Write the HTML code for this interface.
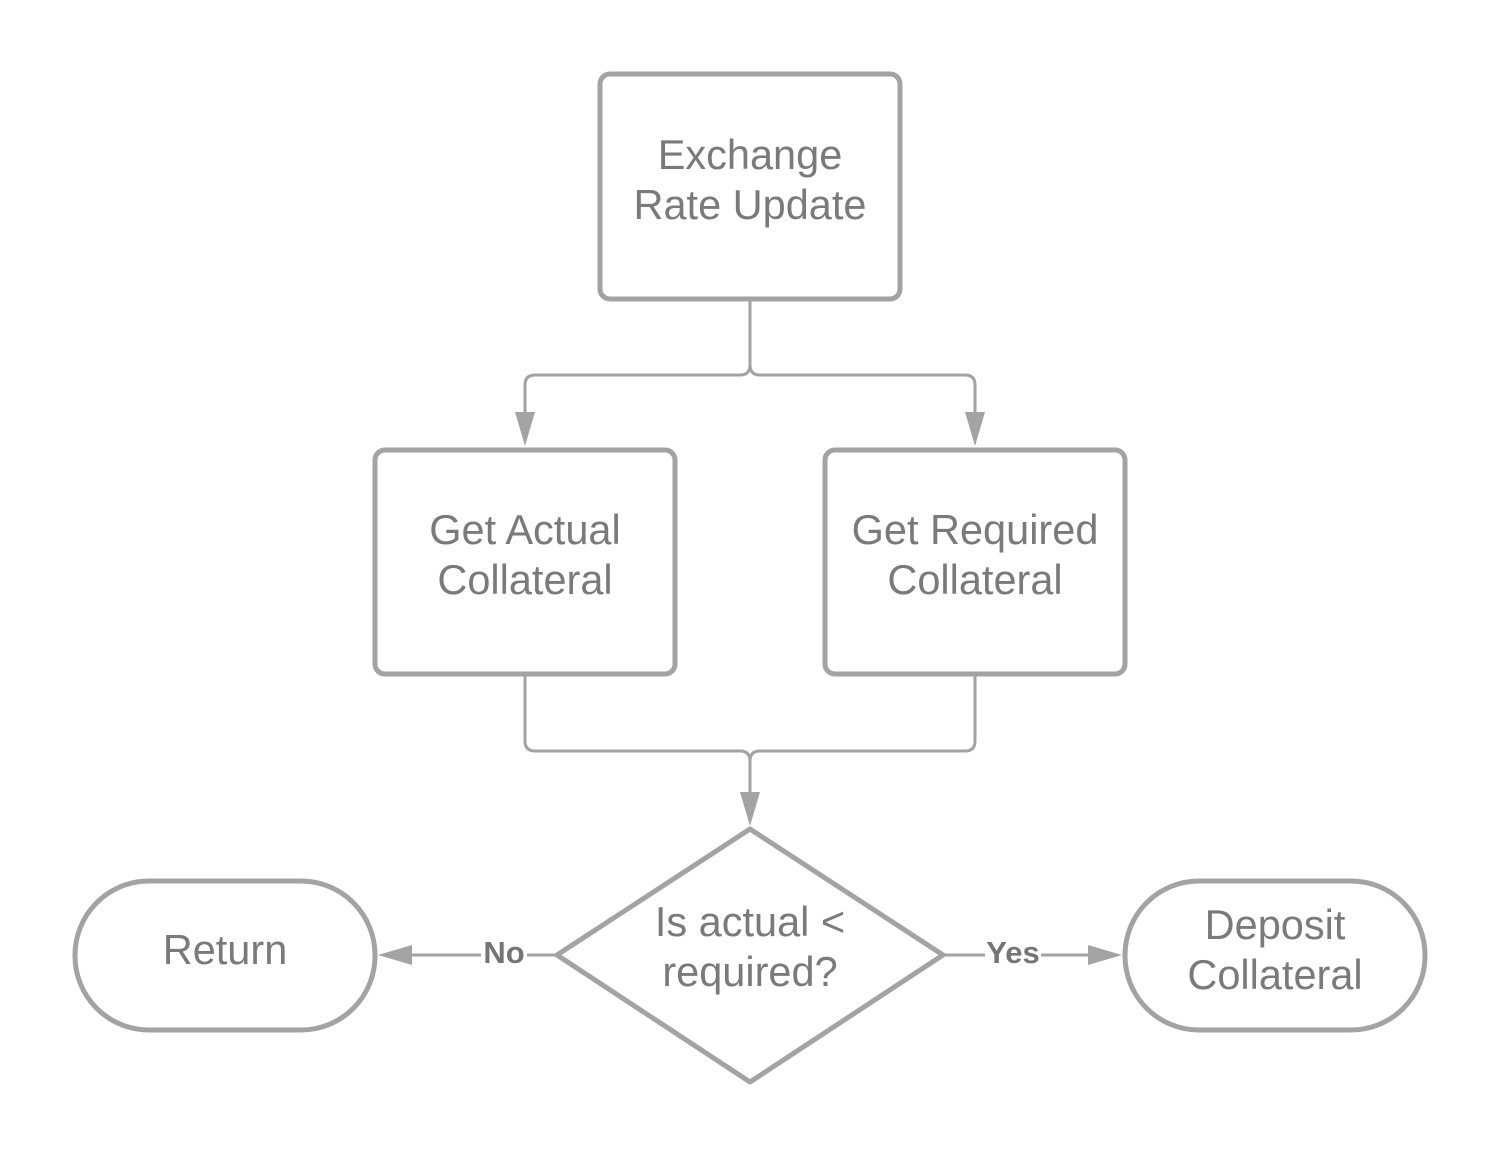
<!DOCTYPE html>
<html><head><style>body{margin:0;background:#fff}</style></head><body>
<svg width="1500" height="1163" viewBox="0 0 1500 1163" xmlns="http://www.w3.org/2000/svg">
<g fill="none" stroke="#a3a3a3" stroke-linejoin="round">
<rect x="600" y="74" width="300" height="225" rx="10" stroke-width="5"/>
<rect x="375" y="450" width="300" height="224" rx="10" stroke-width="5"/>
<rect x="825" y="450" width="300" height="224" rx="10" stroke-width="5"/>
<path d="M750 829 L943 955 L750 1082 L557 955 Z" stroke-width="5"/>
<rect x="75" y="881" width="300" height="149" rx="74" stroke-width="5"/>
<rect x="1125" y="881" width="300" height="149" rx="74" stroke-width="5"/>
<g stroke-width="3">
<path d="M750 299 V365 Q750 375 740 375 H535 Q525 375 525 385 V414"/>
<path d="M750 365 Q750 375 760 375 H965 Q975 375 975 385 V414"/>
<path d="M525 674 V741 Q525 751 535 751 H740 Q750 751 750 761 V794"/>
<path d="M975 674 V741 Q975 751 965 751 H760 Q750 751 750 761"/>
<path d="M557 955 H527 M481 955 H410"/>
<path d="M943 955 H985 M1041 955 H1090"/>
</g>
</g>
<g fill="#a3a3a3">
<path d="M515 412 L535 412 L525 446 Z"/>
<path d="M965 412 L985 412 L975 446 Z"/>
<path d="M740 792 L760 792 L750 826 Z"/>
<path d="M412 945 L412 965 L378 955 Z"/>
<path d="M1088 945 L1088 965 L1122 955 Z"/>
</g>
<g font-family="Liberation Sans, sans-serif" font-size="41.5" fill="#7a7a7a" text-anchor="middle">
<text x="750" y="169">Exchange</text><text x="750" y="219">Rate Update</text>
<text x="525" y="544">Get Actual</text><text x="525" y="594">Collateral</text>
<text x="975" y="544">Get Required</text><text x="975" y="594">Collateral</text>
<text x="750" y="936">Is actual &lt;</text><text x="750" y="986">required?</text>
<text x="225" y="964">Return</text>
<text x="1275" y="939">Deposit</text><text x="1275" y="989">Collateral</text>
</g>
<g font-family="Liberation Sans, sans-serif" font-size="31" font-weight="bold" fill="#757575" text-anchor="middle">
<text x="504" y="963">No</text>
<text x="1013" y="963">Yes</text>
</g>
</svg>
</body></html>
